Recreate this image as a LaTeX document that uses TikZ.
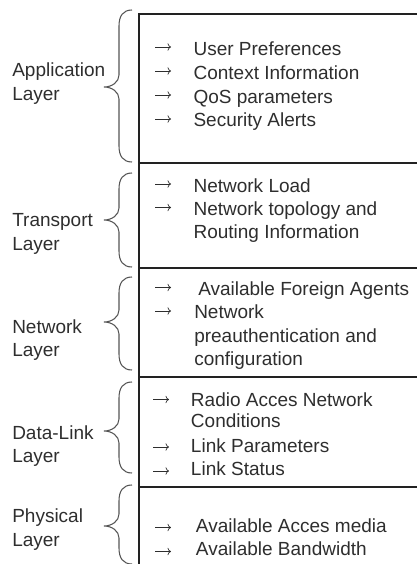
\documentclass[tikz,border=0pt]{standalone}
\usepackage{fontspec}
\usetikzlibrary{arrows.meta}
\setmainfont{Liberation Sans}
\definecolor{txt}{HTML}{2E2E2E}
\definecolor{framec}{HTML}{222222}
\definecolor{bracec}{HTML}{555555}
\newcommand{\layerbrace}[3]{%
  \draw[brc] (132,#1) .. controls (123,#1) and (119,#1+6) .. (119,#1+16)
    -- (119,#3-12) .. controls (119,#3-5) and (112,#3) .. (104,#3)
    .. controls (112,#3) and (119,#3+5) .. (119,#3+12)
    -- (119,#2-16) .. controls (119,#2-6) and (123,#2) .. (132,#2);}
\newcommand{\itemarrow}[2]{\draw[itemarr] (#1,#2) -- (#1+16,#2);}
\begin{document}
\begin{tikzpicture}[x=0.75pt,y=-0.75pt,
  lbl/.style={anchor=base west, inner sep=0pt, text=txt, font=\fontsize{14.25}{17}\selectfont},
  itemarr/.style={draw=txt, line width=0.55pt, -{To[length=2.6pt,width=5.6pt]}},
  frame/.style={line width=1.5pt, draw=framec},
  brc/.style={line width=0.8pt, draw=bracec}]
\useasboundingbox (0,0) rectangle (417,564);
% frame
\draw[frame] (417,14) -- (139,14) -- (139,564);
\foreach \yy in {163,268,377,487} \draw[frame] (139,\yy) -- (417,\yy);
% braces
\layerbrace{10}{162}{87}
\layerbrace{173}{267}{220}
\layerbrace{277}{370}{322}
\layerbrace{382}{473}{431}
\layerbrace{485}{564}{526}
% layer labels
\node[lbl] (app1) at (12,76.7) {Application};
\node[lbl] (app2) at (12,100) {Layer};
\node[lbl] (tra1) at (12,226.7) {Transport};
\node[lbl] (tra2) at (12,250.5) {Layer};
\node[lbl] (net1) at (12,333) {Network};
\node[lbl] (net2) at (12,356.7) {Layer};
\node[lbl] (dl1) at (12,439.3) {Data-Link};
\node[lbl] (dl2) at (12,462.7) {Layer};
\node[lbl] (ph1) at (12,522.7) {Physical};
\node[lbl] (ph2) at (12,546) {Layer};
% application
\itemarrow{155}{47}
\itemarrow{155}{71}
\itemarrow{155}{95}
\itemarrow{155}{119}
\node[lbl] (at1) at (193.3,55.5) {User Preferences};
\node[lbl] (at2) at (193.3,79.3) {Context Information};
\node[lbl] (at3) at (193.3,103) {QoS parameters};
\node[lbl] (at4) at (193.3,126.8) {Security Alerts};
% transport
\itemarrow{155}{184}
\itemarrow{155}{207.5}
\node[lbl] (tt1) at (193.3,192) {Network Load};
\node[lbl] (tt2) at (193.3,215) {Network topology and};
\node[lbl] (tt3) at (193.3,238.5) {Routing Information};
% network
\itemarrow{155}{287.5}
\itemarrow{155}{311}
\node[lbl] (nt1) at (198,295) {Available Foreign Agents};
\node[lbl] (nt2) at (194,318.5) {Network};
\node[lbl] (nt3) at (194,342) {preauthentication and};
\node[lbl] (nt4) at (194,365) {configuration};
% data-link
\itemarrow{153}{399.5}
\itemarrow{153}{447}
\itemarrow{153}{471}
\node[lbl] (dt1) at (190.7,406) {Radio Acces Network};
\node[lbl] (dt2) at (190.7,427.5) {Conditions};
\node[lbl] (dt3) at (190.7,452) {Link Parameters};
\node[lbl] (dt4) at (190.7,475) {Link Status};
% physical
\itemarrow{155}{527.5}
\itemarrow{155}{551.5}
\node[lbl] (pt1) at (195.7,532) {Available Acces media};
\node[lbl] (pt2) at (195.7,555) {Available Bandwidth};
\end{tikzpicture}
\end{document}
